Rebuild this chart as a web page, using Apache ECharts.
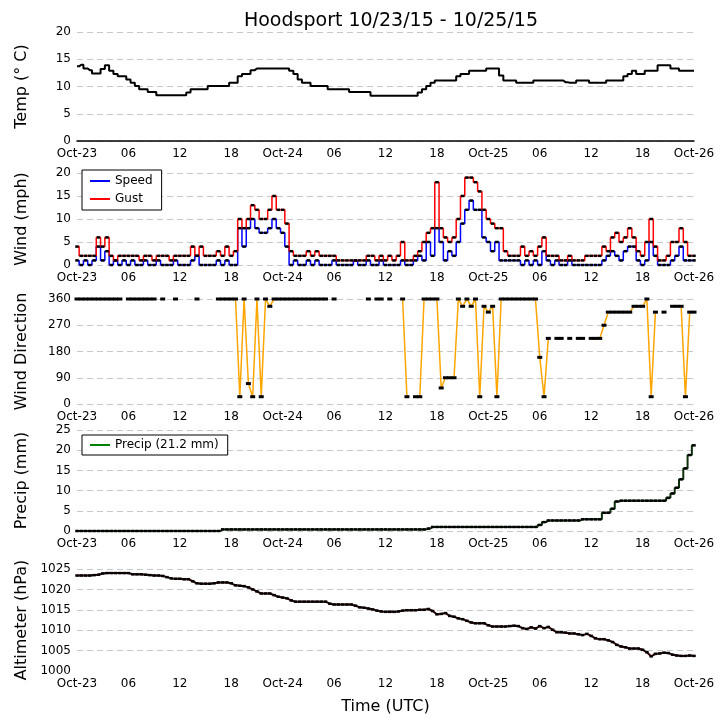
<!DOCTYPE html>
<html lang="en">
<head>
  <meta charset="UTF-8">
  <title>Hoodsport 10/23/15 - 10/25/15</title>
  <script src="https://cdn.jsdelivr.net/npm/echarts@6/dist/echarts.min.js"></script>
  <style>
    html, body { margin: 0; padding: 0; background: #fff; }
    #chart { width: 724px; height: 725px; }
  </style>
</head>
<body>
  <div id="chart"></div>
  <script>
    // half-hourly samples, hour 0 = Oct-23 00:00 UTC
    const stepHours = 0.5;
    const tickLabels = ['Oct-23', '06', '12', '18', 'Oct-24', '06', '12', '18',
                        'Oct-25', '06', '12', '18', 'Oct-26'];

    const temp = [
      13.7, 14.0, 13.3, 13.0, 12.4, 12.4, 13.2, 13.9, 12.9, 12.3, 11.9, 11.9,
      11.3, 10.7, 10.1, 9.5, 9.5, 9.0, 9.0, 8.4, 8.4, 8.4, 8.4, 8.4,
      8.4, 8.4, 8.9, 9.5, 9.5, 9.5, 9.5, 10.1, 10.1, 10.1, 10.1, 10.1,
      10.7, 10.7, 11.9, 12.3, 12.3, 13.0, 13.3, 13.3, 13.3, 13.3, 13.3, 13.3,
      13.3, 13.3, 12.9, 12.3, 11.3, 10.7, 10.7, 10.1, 10.1, 10.1, 10.1, 9.5,
      9.5, 9.5, 9.5, 9.5, 9.0, 9.0, 9.0, 9.0, 9.0, 8.3, 8.3, 8.3,
      8.3, 8.3, 8.3, 8.3, 8.3, 8.3, 8.3, 8.3, 8.9, 9.5, 10.1, 10.7,
      11.1, 11.1, 11.1, 11.1, 11.1, 11.9, 12.3, 12.3, 12.9, 12.9, 12.9, 12.9,
      13.3, 13.3, 13.3, 12.0, 11.1, 11.1, 11.1, 10.7, 10.7, 10.7, 10.7, 11.1,
      11.1, 11.1, 11.1, 11.1, 11.1, 11.1, 10.8, 10.7, 10.7, 11.1, 11.1, 11.1,
      10.7, 10.7, 10.7, 10.7, 11.1, 11.1, 11.1, 11.1, 11.9, 12.3, 12.9, 12.3,
      12.3, 12.9, 12.9, 12.9, 13.9, 13.9, 13.9, 13.3, 13.3, 12.9, 12.9, 12.9,
      12.9
    ];

    const speed = [
      1, 0, 1, 0, 1, 4, 1, 3, 0, 1, 0, 1,
      0, 1, 0, 0, 1, 0, 0, 1, 0, 0, 0, 1,
      0, 0, 0, 1, 2, 0, 0, 0, 0, 1, 0, 1,
      0, 0, 8, 4, 8, 10, 8, 7, 7, 8, 10, 8,
      7, 4, 0, 1, 0, 0, 1, 0, 1, 0, 0, 0,
      1, 0, 0, 0, 0, 1, 0, 0, 1, 0, 0, 1,
      0, 0, 0, 0, 1, 0, 0, 1, 2, 1, 5, 2,
      8, 5, 1, 3, 2, 5, 9, 12, 14, 12, 12, 6,
      5, 3, 5, 1, 1, 1, 1, 1, 0, 1, 0, 1,
      0, 3, 1, 0, 1, 0, 0, 1, 0, 0, 0, 0,
      0, 0, 0, 1, 2, 3, 2, 1, 3, 4, 4, 1,
      0, 1, 5, 2, 0, 0, 0, 1, 2, 4, 1, 1,
      1
    ];

    const gust = [
      4, 2, 2, 2, 2, 6, 4, 6, 2, 1, 2, 2,
      2, 2, 2, 1, 2, 2, 1, 2, 2, 2, 1, 2,
      2, 2, 2, 4, 2, 4, 2, 2, 2, 3, 2, 4,
      2, 3, 10, 8, 10, 13, 12, 10, 10, 12, 15, 12,
      12, 9, 3, 2, 2, 2, 3, 2, 3, 2, 2, 2,
      2, 1, 1, 1, 1, 1, 1, 1, 2, 2, 1, 2,
      1, 2, 1, 2, 5, 1, 1, 2, 3, 5, 7, 8,
      18, 8, 6, 5, 6, 10, 15, 19, 19, 18, 16, 12,
      10, 9, 8, 8, 3, 2, 2, 2, 4, 2, 3, 2,
      4, 6, 2, 2, 2, 1, 1, 2, 1, 1, 1, 2,
      2, 2, 2, 4, 3, 6, 7, 5, 6, 8, 6, 3,
      2, 5, 10, 4, 1, 1, 2, 5, 5, 8, 5, 2,
      2
    ];

    const n = null;
    const direction = [
      360, 360, 360, 360, 360, 360, 360, 360, 360, 360, 360, n,
      360, 360, 360, 360, 360, 360, 360, n, 360, n, n, 360,
      n, n, n, n, 360, n, n, n, n, 360, 360, 360,
      360, 360, 25, 360, 70, 25, 360, 25, 360, 335, 360, 360,
      360, 360, 360, 360, 360, 360, 360, 360, 360, 360, 360, n,
      360, n, n, n, n, n, n, n, 360, n, 360, 360,
      n, 360, n, n, 360, 25, n, 25, 25, 360, 360, 360,
      360, 55, 90, 90, 90, 360, 335, 360, 335, 360, 25, 335,
      315, 335, 25, 360, 360, 360, 360, 360, 360, 360, 360, 360,
      160, 25, 225, n, 225, 225, n, 225, n, 225, 225, n,
      225, 225, 225, 270, 315, 315, 315, 315, 315, 315, 335, 335,
      335, 360, 25, 315, n, 315, n, 335, 335, 335, 25, 315,
      315
    ];

    const precip = [
      0, 0, 0, 0, 0, 0, 0, 0, 0, 0, 0, 0,
      0, 0, 0, 0, 0, 0, 0, 0, 0, 0, 0, 0,
      0, 0, 0, 0, 0, 0, 0, 0, 0, 0, 0.4, 0.4,
      0.4, 0.4, 0.4, 0.4, 0.4, 0.4, 0.4, 0.4, 0.4, 0.4, 0.4, 0.4,
      0.4, 0.4, 0.4, 0.4, 0.4, 0.4, 0.4, 0.4, 0.4, 0.4, 0.4, 0.4,
      0.4, 0.4, 0.4, 0.4, 0.4, 0.4, 0.4, 0.4, 0.4, 0.4, 0.4, 0.4,
      0.4, 0.4, 0.4, 0.4, 0.4, 0.4, 0.4, 0.4, 0.4, 0.4, 0.6, 1.0,
      1.0, 1.0, 1.0, 1.0, 1.0, 1.0, 1.0, 1.0, 1.0, 1.0, 1.0, 1.0,
      1.0, 1.0, 1.0, 1.0, 1.0, 1.0, 1.0, 1.0, 1.0, 1.0, 1.0, 1.0,
      1.5, 2.2, 2.6, 2.6, 2.6, 2.6, 2.6, 2.6, 2.6, 2.6, 2.9, 2.9,
      2.9, 2.9, 2.9, 4.5, 4.5, 5.5, 7.3, 7.5, 7.5, 7.5, 7.5, 7.5,
      7.5, 7.5, 7.5, 7.5, 7.5, 7.5, 8.2, 9.3, 10.7, 12.8, 15.5, 18.8,
      21.2
    ];

    const altimeter = [
      1023.4, 1023.4, 1023.4, 1023.4, 1023.5, 1023.6, 1023.9, 1024.0, 1024.0, 1024.0, 1024.0, 1024.0,
      1024.0, 1023.7, 1023.7, 1023.7, 1023.6, 1023.5, 1023.4, 1023.4, 1023.3, 1023.0, 1022.7, 1022.6,
      1022.6, 1022.5, 1022.5, 1022.0, 1021.5, 1021.4, 1021.4, 1021.4, 1021.5, 1021.7, 1021.7, 1021.7,
      1021.5, 1021.0, 1020.9, 1020.8, 1020.5, 1020.0, 1019.5, 1019.0, 1019.0, 1019.0, 1018.6, 1018.2,
      1018.0, 1017.8, 1017.3, 1017.0, 1017.0, 1017.0, 1017.0, 1017.0, 1017.0, 1017.0, 1017.0, 1016.5,
      1016.3, 1016.3, 1016.3, 1016.3, 1016.3, 1016.0, 1015.6, 1015.5, 1015.3, 1015.1, 1014.8, 1014.6,
      1014.5, 1014.5, 1014.5, 1014.6, 1014.8, 1014.9, 1014.9, 1014.9, 1015.0, 1015.0, 1015.2, 1014.7,
      1013.9, 1014.0, 1014.2, 1013.5, 1013.3, 1012.9, 1012.7, 1012.3, 1011.9, 1011.7, 1011.7, 1011.7,
      1011.2, 1010.9, 1010.9, 1010.9, 1010.9, 1011.0, 1011.1, 1011.0, 1010.5, 1010.3, 1010.7, 1010.4,
      1011.0, 1010.5, 1010.8, 1010.1, 1009.5, 1009.5, 1009.4, 1009.2, 1009.2, 1009.0, 1008.8, 1009.1,
      1008.6, 1008.0, 1007.8, 1007.8, 1007.5, 1007.1, 1006.4, 1006.0, 1005.8, 1005.5, 1005.5, 1005.5,
      1005.2, 1004.6, 1003.6, 1004.2, 1004.3, 1004.5, 1004.4, 1004.0, 1003.8, 1003.7, 1003.7, 1003.8,
      1003.7
    ];

    const font = 'DejaVu Sans';

    function pairs(values) {
      return values.map((v, i) => [i * stepHours, v]);
    }

    const grids = [
      { left: 77, right: 30, top: 32, height: 109 },
      { left: 77, right: 30, top: 173, height: 92 },
      { left: 77, right: 30, top: 299, height: 105 },
      { left: 77, right: 30, top: 430, height: 101 },
      { left: 77, right: 30, top: 569, height: 102 }
    ];

    const xAxes = grids.map((g, i) => ({
      type: 'value',
      gridIndex: i,
      min: 0,
      max: 72,
      interval: 6,
      axisTick: { show: false },
      axisLine: { show: i === 0, lineStyle: { color: '#000', width: 1.5 } },
      splitLine: { show: false },
      axisLabel: {
        color: '#000',
        fontSize: 12,
        fontFamily: font,
        margin: 7,
        formatter: v => tickLabels[Math.round(v / 6)]
      },
      name: i === 4 ? 'Time (UTC)' : '',
      nameLocation: 'middle',
      nameGap: 28,
      nameTextStyle: { color: '#000', fontSize: 16, fontFamily: font }
    }));

    function yAxis(i, name, min, max, interval, hideMin) {
      return {
        type: 'value',
        gridIndex: i,
        min: min,
        max: max,
        interval: interval,
        name: name,
        nameLocation: 'middle',
        nameGap: 47,
        nameTextStyle: { color: '#000', fontSize: 16, fontFamily: font },
        axisLine: { show: false },
        axisTick: { show: false },
        axisLabel: {
          color: '#000', fontSize: 12, fontFamily: font, margin: 6,
          formatter: v => String(v)
        },
        splitLine: {
          show: true,
          showMinLine: !hideMin,
          lineStyle: { color: '#c8c8c8', width: 1, type: [6, 4] }
        }
      };
    }

    const yAxes = [
      yAxis(0, 'Temp (° C)', 0, 20, 5),
      yAxis(1, 'Wind (mph)', 0, 20, 5),
      yAxis(2, 'Wind Direction', 0, 360, 90),
      yAxis(3, 'Precip (mm)', 0, 25, 5),
      yAxis(4, 'Altimeter (hPa)', 1000, 1025, 5, true)
    ];

    const dot = { symbol: 'rect', symbolSize: [3.5, 2.5], itemStyle: { color: '#000' } };

    const legendBase = {
      orient: 'vertical',
      left: 82,
      itemWidth: 20,
      itemHeight: 10,
      borderColor: '#000',
      borderWidth: 1,
      borderRadius: 0,
      backgroundColor: '#fff',
      itemStyle: { opacity: 0 },
      textStyle: { color: '#000', fontSize: 12, fontFamily: font }
    };

    const chart = echarts.init(document.getElementById('chart'), null, { renderer: 'canvas' });

    chart.setOption({
      animation: false,
      backgroundColor: '#fff',
      title: {
        text: 'Hoodsport 10/23/15 - 10/25/15',
        left: 386,
        textAlign: 'center',
        top: 7,
        textStyle: { color: '#000', fontSize: 19, fontWeight: 'normal', fontFamily: font }
      },
      legend: [
        Object.assign({}, legendBase, {
          data: ['Speed', 'Gust'],
          top: 170,
          padding: [5, 9, 5, 7],
          itemGap: 6
        }),
        Object.assign({}, legendBase, {
          data: [{ name: 'Precip (21.2 mm)', lineStyle: { color: '#008000' } }],
          top: 435,
          padding: [4, 9, 4, 7]
        })
      ],
      grid: grids,
      xAxis: xAxes,
      yAxis: yAxes,
      series: [
        {
          name: 'Temp', type: 'line', xAxisIndex: 0, yAxisIndex: 0,
          data: pairs(temp), step: 'middle', showSymbol: false,
          lineStyle: { color: '#000', width: 2 }
        },
        Object.assign({
          name: 'Speed', type: 'line', xAxisIndex: 1, yAxisIndex: 1,
          data: pairs(speed), step: 'middle',
          lineStyle: { color: '#0000ff', width: 1.5 }
        }, dot),
        Object.assign({
          name: 'Gust', type: 'line', xAxisIndex: 1, yAxisIndex: 1,
          data: pairs(gust), step: 'middle',
          lineStyle: { color: '#ff0000', width: 1.5 }
        }, dot),
        Object.assign({
          name: 'Direction', type: 'line', xAxisIndex: 2, yAxisIndex: 2,
          data: pairs(direction), connectNulls: false,
          lineStyle: { color: '#ffa500', width: 1.5 }
        }, dot, { symbolSize: [5, 3] }),
        Object.assign({
          name: 'Precip (21.2 mm)', type: 'line', xAxisIndex: 3, yAxisIndex: 3,
          data: pairs(precip), step: 'middle',
          lineStyle: { color: '#0b300b', width: 2 }
        }, dot),
        Object.assign({
          name: 'Altimeter', type: 'line', xAxisIndex: 4, yAxisIndex: 4,
          data: pairs(altimeter),
          lineStyle: { color: '#3a0000', width: 2 }
        }, dot)
      ]
    });
  </script>
</body>
</html>
